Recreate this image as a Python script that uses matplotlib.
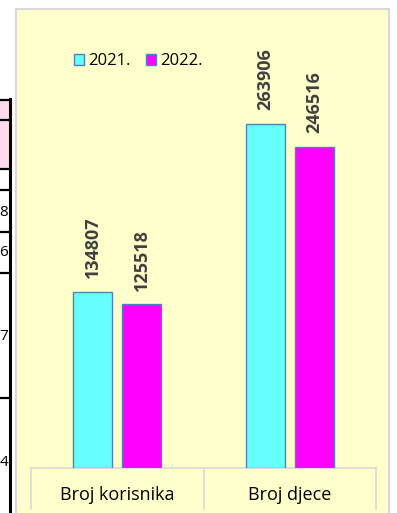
import matplotlib.pyplot as plt
from matplotlib.patches import Rectangle
from matplotlib.lines import Line2D
import numpy as np

plt.rcParams['font.family'] = ['Open Sans', 'DejaVu Sans']

# podaci
kategorije = ['Broj korisnika', 'Broj djece']
godine = ['2021.', '2022.']
v2021 = [134807, 263906]
v2022 = [125518, 246516]
boje = ['#66FFFF', '#FF00FF']

# ostatak tablice s lijeve strane (odrezano)
tablica_brojevi = ['8', '6', '7', '4']

W, H = 397, 513
fig = plt.figure(figsize=(W / 100, H / 100), dpi=100)
fig.patch.set_facecolor('white')


def px(x, y):
    # pikseli (od gore lijevo) u koordinate figure
    return x / W, 1 - y / H


# okvir grafikona
x0, y0 = px(16, 9)
fig.patches.append(Rectangle((x0, -0.01), px(389, 0)[0] - x0, y0 + 0.01,
                             transform=fig.transFigure, facecolor='#FFFFCC',
                             edgecolor='#D9D9D9', linewidth=1.5, zorder=-2))

# tablica lijevo
fig.patches.append(Rectangle(px(0, 169), px(9, 0)[0], px(0, 100)[1] - px(0, 169)[1],
                             transform=fig.transFigure, facecolor='#FFD9EC',
                             edgecolor='none', zorder=-1))
for yy in [100, 120, 169, 190, 232, 273, 398]:
    fig.lines.append(Line2D([0, px(10, 0)[0]], [px(0, yy)[1]] * 2,
                            transform=fig.transFigure, color='black', lw=1.6))
fig.lines.append(Line2D([px(9.5, 0)[0]] * 2, [px(0, 99)[1], 0],
                        transform=fig.transFigure, color='black', lw=2.2))
for txt, yy in zip(tablica_brojevi, [212, 253, 337, 462]):
    fig.text(px(8, 0)[0], px(0, yy)[1], txt, ha='right', va='center',
             fontsize=11, color='black')

# osi
ax_l, ax_r = 31, 376
ax_b = 468
ymax = 300000
skala = 0.0013034
ax_t = ax_b - ymax * skala
ax = fig.add_axes([ax_l / W, 1 - ax_b / H, (ax_r - ax_l) / W, (ax_b - ax_t) / H])
ax.set_facecolor('none')

x = np.arange(len(kategorije))
sirina = 0.226
pomak = 0.142
for i, (vals, god) in enumerate(zip([v2021, v2022], godine)):
    bars = ax.bar(x + (-pomak if i == 0 else pomak), vals, sirina, color=boje[i],
                  edgecolor='#4F81BD', linewidth=1.0, label=god, zorder=3)
    for b, v in zip(bars, vals):
        ax.annotate(str(v), (b.get_x() + b.get_width() / 2, v),
                    xytext=(0, 10), textcoords='offset points',
                    ha='center', va='bottom', rotation=90,
                    fontsize=13, fontweight='bold', color='#404040')

ax.set_xlim(-0.5, 1.5)
ax.set_ylim(0, ymax)
for s in ['top', 'right', 'left']:
    ax.spines[s].set_visible(False)
ax.spines['bottom'].set_color('#D9D9D9')
ax.spines['bottom'].set_linewidth(1.2)
ax.set_yticks([])
ax.set_xticks([])

# kategorijske oznake i razdjelnici
for xi in [-0.5, 0.5, 1.5]:
    ax.plot([xi, xi], [0, -0.105 * ymax], color='#D9D9D9', lw=1.2,
            clip_on=False, zorder=2)
for xi, k in zip(x, kategorije):
    ax.text(xi, -27.3 / skala, k, ha='center', va='center',
            fontsize=13, color='black')

leg = ax.legend(loc='upper left', bbox_to_anchor=(px(66, 0)[0], px(0, 45)[1]),
                bbox_transform=fig.transFigure, ncol=2, frameon=False,
                fontsize=12, handlelength=0.6, handleheight=0.6,
                handletextpad=0.25, columnspacing=0.9, borderpad=0)

fig.savefig('out.png', dpi=100, facecolor='white')
